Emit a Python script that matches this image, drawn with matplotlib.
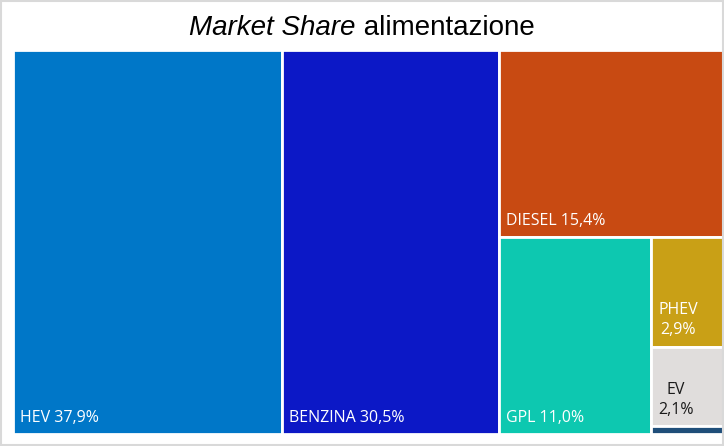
import matplotlib
matplotlib.use("Agg")
import matplotlib.pyplot as plt
from matplotlib.patches import Rectangle

# dati
categorie = ["HEV", "BENZINA", "DIESEL", "GPL", "PHEV", "EV", "ALTRO"]
quote = [37.9, 30.5, 15.4, 11.0, 2.9, 2.1, 0.2]
etichette = ["HEV 37,9%", "BENZINA 30,5%", "DIESEL 15,4%", "GPL 11,0%", "PHEV\n2,9%", "EV\n2,1%", ""]
colori = ["#0077C8", "#0C18C6", "#C84A12", "#0DC8B0", "#C9A016", "#E0DDDC", "#1F4E79"]
colori_testo = ["white", "white", "white", "white", "white", "#1a1a1a", "white"]

plt.rcParams["font.family"] = ["Open Sans", "DejaVu Sans"]

fig = plt.figure(figsize=(7.24, 4.46), dpi=100)
fig.patches.append(Rectangle((0.002, 0.002), 0.996, 0.996, transform=fig.transFigure,
                             fill=False, edgecolor="#d9d9d9", linewidth=1.5))

ax = fig.add_axes([13 / 724, 1 - 434 / 446, 710 / 724, 384 / 446])
ax.set_xlim(0, 1)
ax.set_ylim(0, 1)
ax.axis("off")

# layout a fette alternate: colonne HEV, BENZINA, poi resto diviso
tot = sum(quote)
rects = []
x = 0.0
for v in quote[:2]:
    w = v / tot
    rects.append((x, 0, w, 1))
    x += w
# blocco a destra
resto = quote[2:]
w_r = 1 - x
s_r = sum(resto)
h_d = resto[0] / s_r
rects.append((x, 1 - h_d, w_r, h_d))
h_b = 1 - h_d
s_b = sum(resto[1:])
w_g = w_r * resto[1] / s_b
rects.append((x, 0, w_g, h_b))
x2 = x + w_g
w_p = w_r - w_g
s_p = sum(resto[2:])
y = h_b
for v in resto[2:]:
    h = h_b * v / s_p
    y -= h
    rects.append((x2, y, w_p, h))

for (rx, ry, rw, rh), c, lab, tc in zip(rects, colori, etichette, colori_testo):
    ax.add_patch(Rectangle((rx, ry), rw, rh, facecolor=c, edgecolor="white", linewidth=2))
    if lab:
        ax.text(rx + 0.01, ry + 0.022, lab, color=tc, fontsize=11.5, ha="left", va="bottom",
                multialignment="center", linespacing=1.35)

# titolo: parte in corsivo + parte normale
t1 = fig.text(0.0, 0.937, "Market Share", fontsize=20, style="italic", va="center", family="Liberation Sans")
t2 = fig.text(0.0, 0.937, " alimentazione", fontsize=20, va="center", family="Liberation Sans")
fig.canvas.draw()
r = fig.canvas.get_renderer()
w1 = t1.get_window_extent(r).width / fig.bbox.width
w2 = t2.get_window_extent(r).width / fig.bbox.width
x0 = 0.5 - (w1 + w2) / 2
t1.set_x(x0)
t2.set_x(x0 + w1)

fig.savefig("out.png", dpi=100)
